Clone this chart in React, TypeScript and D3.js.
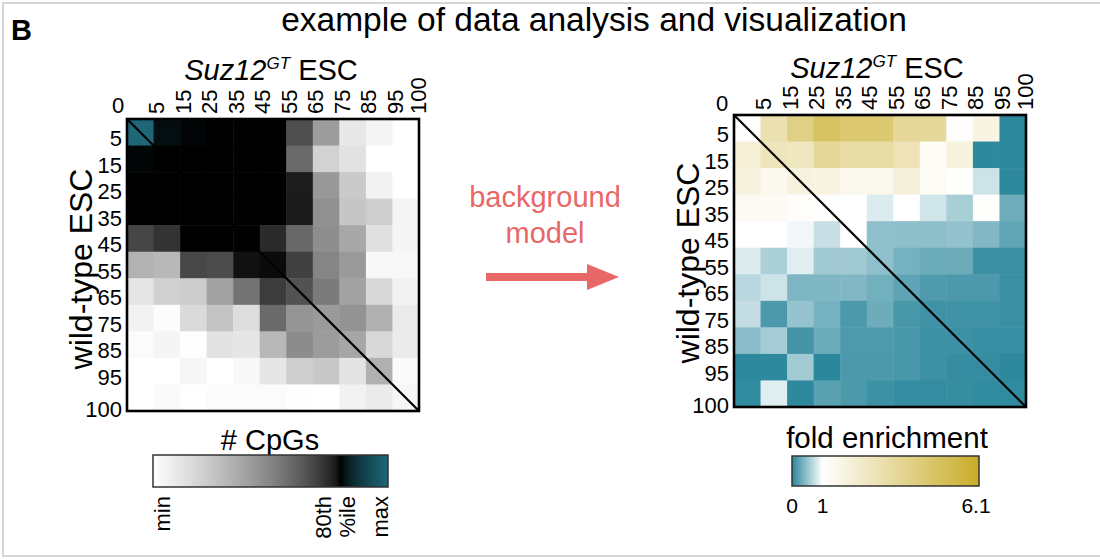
import React from "react";
import * as d3 from "d3";

// Bin edges shared by both axes (11 bins between 12 edges)
const binEdges = ["0", "5", "15", "25", "35", "45", "55", "65", "75", "85", "95", "100"];

// Number of CpGs per bin pair (0 = min, 80 = 80th percentile, 100 = max)
const cpgCounts: number[][] = [
  [100, 81, 80.2, 80, 80, 80, 66.2, 41.7, 10.6, 5.1, 0],
  [80.3, 80, 80, 80, 80, 80, 58.6, 20.2, 13.2, 0, 0],
  [80, 80, 80, 80, 80, 80, 77.1, 42.8, 23.6, 6.0, 0],
  [80, 80, 80, 80, 80, 80, 77.4, 46.0, 25.3, 21.9, 4.6],
  [68.5, 72.8, 80, 80, 80, 74.7, 59.2, 46.8, 37.2, 14.2, 4.6],
  [33.4, 31.0, 68.0, 67.0, 78.6, 79.3, 69.9, 49.9, 42.5, 3.3, 3.3],
  [11.9, 21.1, 22.8, 39.9, 55.8, 70.9, 65.4, 53.2, 39.5, 17.6, 6.0],
  [6.0, 1.4, 16.8, 26.1, 15.0, 58.6, 44.3, 42.5, 45.0, 34.1, 9.2],
  [1.9, 4.6, 0.5, 13.2, 11.5, 31.0, 47.5, 41.7, 38.0, 17.6, 9.2],
  [0, 0, 4.2, 0, 3.3, 11.5, 21.9, 24.4, 12.4, 33.7, 2.4],
  [0, 2.4, 0, 1.9, 1.9, 1.9, 0.5, 0, 6.0, 9.7, 4.2],
];

// Fold enrichment over the background model
const foldEnrichment: number[][] = [
  [1.05, 2.9, 3.9, 4.7, 4.4, 4.4, 3.4, 3.4, 1.1, 1.7, 0.02],
  [2.0, 2.6, 2.5, 3.4, 3.1, 3.1, 2.7, 1.2, 1.8, 0.02, 0.02],
  [1.8, 1.4, 1.8, 1.7, 1.4, 1.4, 1.9, 1.25, 1.05, 0.77, 0.02],
  [1.3, 1.3, 1.1, 1.05, 1.0, 0.83, 1.0, 0.78, 0.59, 1.05, 0.32],
  [1.0, 1.0, 0.94, 0.74, 1.0, 0.47, 0.46, 0.46, 0.49, 0.41, 0.25],
  [0.83, 0.61, 0.86, 0.55, 0.55, 0.47, 0.35, 0.3, 0.3, 0.07, 0.07],
  [0.67, 0.77, 0.39, 0.4, 0.41, 0.34, 0.24, 0.17, 0.15, 0.15, 0.07],
  [0.72, 0.15, 0.5, 0.36, 0.15, 0.31, 0.14, 0.1, 0.1, 0.1, 0.07],
  [0.45, 0.58, 0.12, 0.31, 0.16, 0.16, 0.14, 0.08, 0.08, 0.06, 0.06],
  [0.02, 0.02, 0.56, 0.0, 0.15, 0.15, 0.14, 0.08, 0.05, 0.05, 0.02],
  [0.03, 0.86, 0.02, 0.22, 0.15, 0.08, 0.04, 0.04, 0.05, 0.03, 0.03],
];

const cpgStops = [0, 80, 100];
const cpgStopLabels = ["min", "80th\n%ile", "max"];
const foldTicks = [0, 1, 6.1];

const FONT = "'Liberation Sans', Arial, Helvetica, sans-serif";
const SIZE = 292;
const TICK_FONT = 22;

// white -> black at the 80th percentile -> teal at the maximum
const cpgColor = d3
  .scaleLinear<string>()
  .domain(cpgStops)
  .range(["#ffffff", "#000000", "#1d6778"])
  .interpolate(d3.interpolateRgb.gamma(1.5));

const foldColor = d3
  .scaleLinear<string>()
  .domain([0, 1, 6.1])
  .range(["#2b879c", "#ffffff", "#c9ac28"]);

type PanelProps = {
  x0: number;
  y0: number;
  values: number[][];
  color: (v: number) => string;
  zeroLabel: [number, number];
};

function Heatmap({ x0, y0, values, color, zeroLabel }: PanelProps) {
  const n = values.length;
  const band = d3.scaleBand<number>().domain(d3.range(n)).range([0, SIZE]);
  const edge = d3.scaleLinear().domain([0, n]).range([0, SIZE]);
  const cells: React.ReactNode[] = [];
  values.forEach((row, r) =>
    row.forEach((v, c) =>
      cells.push(
        <rect
          key={`${r}-${c}`}
          x={band(c)}
          y={band(r)}
          width={band.bandwidth() + 0.5}
          height={band.bandwidth() + 0.5}
          fill={color(v)}
        />
      )
    )
  );
  return (
    <g fontFamily={FONT}>
      <g transform={`translate(${x0},${y0})`}>
        {cells}
        <line x1={0} y1={0} x2={SIZE} y2={SIZE} stroke="#000" strokeWidth={2.2} />
        <rect x={0} y={0} width={SIZE} height={SIZE} fill="none" stroke="#000" strokeWidth={2.6} />
        {binEdges.slice(1).map((lab, i) => {
          const last = i === binEdges.length - 2;
          const px = edge(i + 1) + (last ? -1 : 3);
          return (
            <text
              key={`x${lab}`}
              transform={`translate(${px},-5) rotate(-90)`}
              fontSize={TICK_FONT}
              dominantBaseline="central"
              textAnchor="start"
            >
              {lab}
            </text>
          );
        })}
        {binEdges.slice(1).map((lab, i) => {
          const last = i === binEdges.length - 2;
          const py = edge(i + 1) + (last ? -2 : -7);
          return (
            <text
              key={`y${lab}`}
              x={-5}
              y={py}
              fontSize={TICK_FONT}
              dominantBaseline="central"
              textAnchor="end"
            >
              {lab}
            </text>
          );
        })}
      </g>
      <text
        x={zeroLabel[0]}
        y={zeroLabel[1]}
        fontSize={TICK_FONT}
        textAnchor="middle"
        dominantBaseline="central"
      >
        {binEdges[0]}
      </text>
    </g>
  );
}

function AxisTitles({ cx, topY, yx, yy }: { cx: number; topY: number; yx: number; yy: number }) {
  return (
    <g fontFamily={FONT}>
      <text x={cx} y={topY} fontSize={29} textAnchor="middle">
        <tspan fontStyle="italic">Suz12</tspan>
        <tspan fontStyle="italic" fontSize={17} dy={-11}>GT</tspan>
        <tspan dy={11}> ESC</tspan>
      </text>
      <text
        transform={`translate(${yx},${yy}) rotate(-90)`}
        fontSize={32}
        textAnchor="middle"
        dominantBaseline="central"
      >
        wild-type ESC
      </text>
    </g>
  );
}

export default function App() {
  // CpG legend
  const cpgLegX = d3.scaleLinear().domain([0, 100]).range([153, 388]);
  const cpgSamples = d3.range(0, 101, 2);
  // fold legend
  const foldLegX = d3.scaleLinear().domain([0, 6.1]).range([792, 979]);
  const foldSamples = d3.range(0, 6.1001, 0.1);

  return (
    <svg
      width={1100}
      height={560}
      style={{ position: "absolute", left: 0, top: 0, background: "#fff" }}
    >
      <rect x={3} y={3} width={1110} height={553} fill="none" stroke="#d6d6d6" strokeWidth={2} />
      <text x={11} y={40} fontFamily={FONT} fontWeight="bold" fontSize={29}>
        B
      </text>
      <text x={594} y={31} fontFamily={FONT} fontSize={33.5} textAnchor="middle">
        example of data analysis and visualization
      </text>

      <AxisTitles cx={271} topY={80} yx={81} yy={269} />
      <Heatmap x0={127} y0={119} values={cpgCounts} color={cpgColor} zeroLabel={[118, 105]} />

      <AxisTitles cx={877} topY={78} yx={688} yy={263} />
      <Heatmap x0={734} y0={115} values={foldEnrichment} color={foldColor} zeroLabel={[722, 103]} />

      {/* background model arrow */}
      <g fontFamily={FONT} fill="#e86767">
        <text x={545} y={207} fontSize={29} textAnchor="middle">background</text>
        <text x={545} y={243} fontSize={29} textAnchor="middle">model</text>
        <rect x={486} y={273} width={104} height={8} />
        <path d="M587,264 L619,277 L587,290 Z" />
      </g>

      {/* colour legends */}
      <g fontFamily={FONT}>
        <defs>
          <linearGradient id="cpgGrad" x1="0" x2="1" y1="0" y2="0">
            {cpgSamples.map((v) => (
              <stop key={v} offset={`${v}%`} stopColor={cpgColor(v)} />
            ))}
          </linearGradient>
          <linearGradient id="foldGrad" x1="0" x2="1" y1="0" y2="0">
            {foldSamples.map((v) => (
              <stop key={v.toFixed(1)} offset={`${(v / 6.1) * 100}%`} stopColor={foldColor(v)} />
            ))}
          </linearGradient>
        </defs>
        <text x={270} y={450} fontSize={29} textAnchor="middle"># CpGs</text>
        <rect x={cpgLegX(0)} y={455} width={cpgLegX(100) - cpgLegX(0)} height={32} fill="url(#cpgGrad)" stroke="#333" strokeWidth={1.5} />
        {cpgStops.map((s, i) => {
          const lines = cpgStopLabels[i].split("\n");
          const base = cpgLegX(s) + (i === 0 ? 9 : i === 1 ? -6 : -8);
          return lines.map((ln, j) => (
            <text
              key={`${s}-${j}`}
              transform={`translate(${base + (j - (lines.length - 1) / 2) * 24},496) rotate(-90)`}
              fontSize={22}
              textAnchor="end"
              dominantBaseline="central"
            >
              {ln}
            </text>
          ));
        })}

        <text x={887} y={448} fontSize={29.5} textAnchor="middle">fold enrichment</text>
        <rect x={foldLegX(0)} y={456} width={foldLegX(6.1) - foldLegX(0)} height={30} fill="url(#foldGrad)" stroke="#333" strokeWidth={1.5} />
        {foldTicks.map((t) => (
          <text key={t} x={foldLegX(t) + (t > 5 ? -3 : 0)} y={513} fontSize={21} textAnchor="middle">
            {t}
          </text>
        ))}
      </g>
    </svg>
  );
}
